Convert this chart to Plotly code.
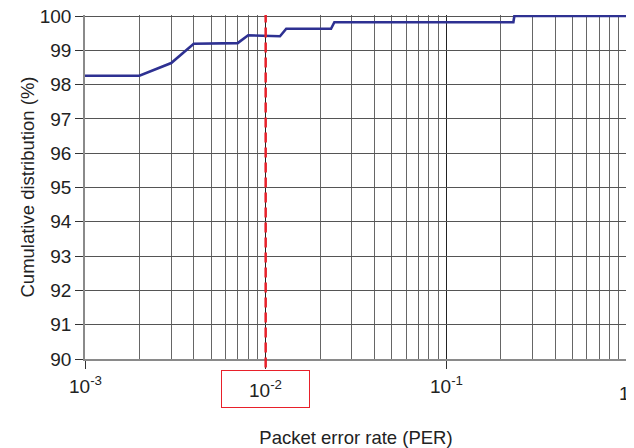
import math
import plotly.graph_objects as go

# Data
per = [0.001, 0.002, 0.003, 0.004, 0.007, 0.008, 0.012, 0.013, 0.023, 0.024, 0.235, 0.238, 1.0]
cdf = [98.26, 98.26, 98.63, 99.19, 99.21, 99.44, 99.41, 99.63, 99.63, 99.82, 99.82, 100.0, 100.0]

major_ticks = [0.001, 0.01, 0.1, 1]
major_text = ["10<sup>-3</sup>", "10<sup>-2</sup>", "10<sup>-1</sup>", "1"]
minor_ticks = [m * 10 ** e for e in (-3, -2, -1) for m in range(2, 10)]
y_ticks = list(range(90, 101))
threshold = 0.01

FONT = "Liberation Sans, Arial, sans-serif"
fig = go.Figure()
fig.add_trace(go.Scatter(x=per, y=cdf, mode="lines",
                         line=dict(color="#2e3192", width=2.6), showlegend=False))

# page body has an 8px default margin, so the figure is sized to end at 634x448
fig.update_layout(
    width=626, height=440,
    margin=dict(l=77, r=7, t=7, b=89),
    paper_bgcolor="white", plot_bgcolor="white",
    font=dict(family=FONT, size=18, color="#222"),
    xaxis=dict(type="log", range=[-3, 0], tickvals=major_ticks, showticklabels=False,
               ticks="outside", ticklen=8, tickcolor="#333", tickwidth=1,
               showgrid=True, gridcolor="#222", gridwidth=1,
               showline=True, linecolor="#8a8a8a", linewidth=1.5,
               minor=dict(tickvals=minor_ticks, showgrid=True, gridcolor="#666", gridwidth=1, ticks=""),
               zeroline=False, automargin=False,
               title=dict(text="Packet error rate (PER)", font=dict(size=18.5), standoff=71)),
    yaxis=dict(range=[90, 100.03], tickvals=y_ticks, ticks="outside", ticklen=8,
               tickcolor="#333", showgrid=True, gridcolor="#555", gridwidth=1,
               showline=True, linecolor="#8a8a8a", linewidth=1.5, zeroline=False,
               tickfont=dict(size=19), automargin=False, ticklabeloverflow="allow",
               title=dict(text="Cumulative distribution (%)", font=dict(size=18.5), standoff=0)),
)

label_y = [-0.075, -0.087, -0.075, -0.100]
for v, t, yy in zip(major_ticks, major_text, label_y):
    boxed = (v == threshold)
    last = (v == major_ticks[-1])
    fig.add_annotation(x=math.log10(v), xref="x", y=yy, yref="paper", text=t,
                       showarrow=False, yanchor="middle",
                       xanchor="right" if last else "center", xshift=3 if last else 0,
                       font=dict(size=19, color="#222"),
                       bordercolor="#e8202a" if boxed else None,
                       borderwidth=1 if boxed else 0, borderpad=0,
                       width=87 if boxed else None, height=36 if boxed else None)

fig.add_shape(type="line", xref="x", yref="paper", x0=threshold, x1=threshold,
              y0=-0.025, y1=1, line=dict(color="#e8202a", width=2.5, dash="10px,5px"))

fig.write_html("out.html")
